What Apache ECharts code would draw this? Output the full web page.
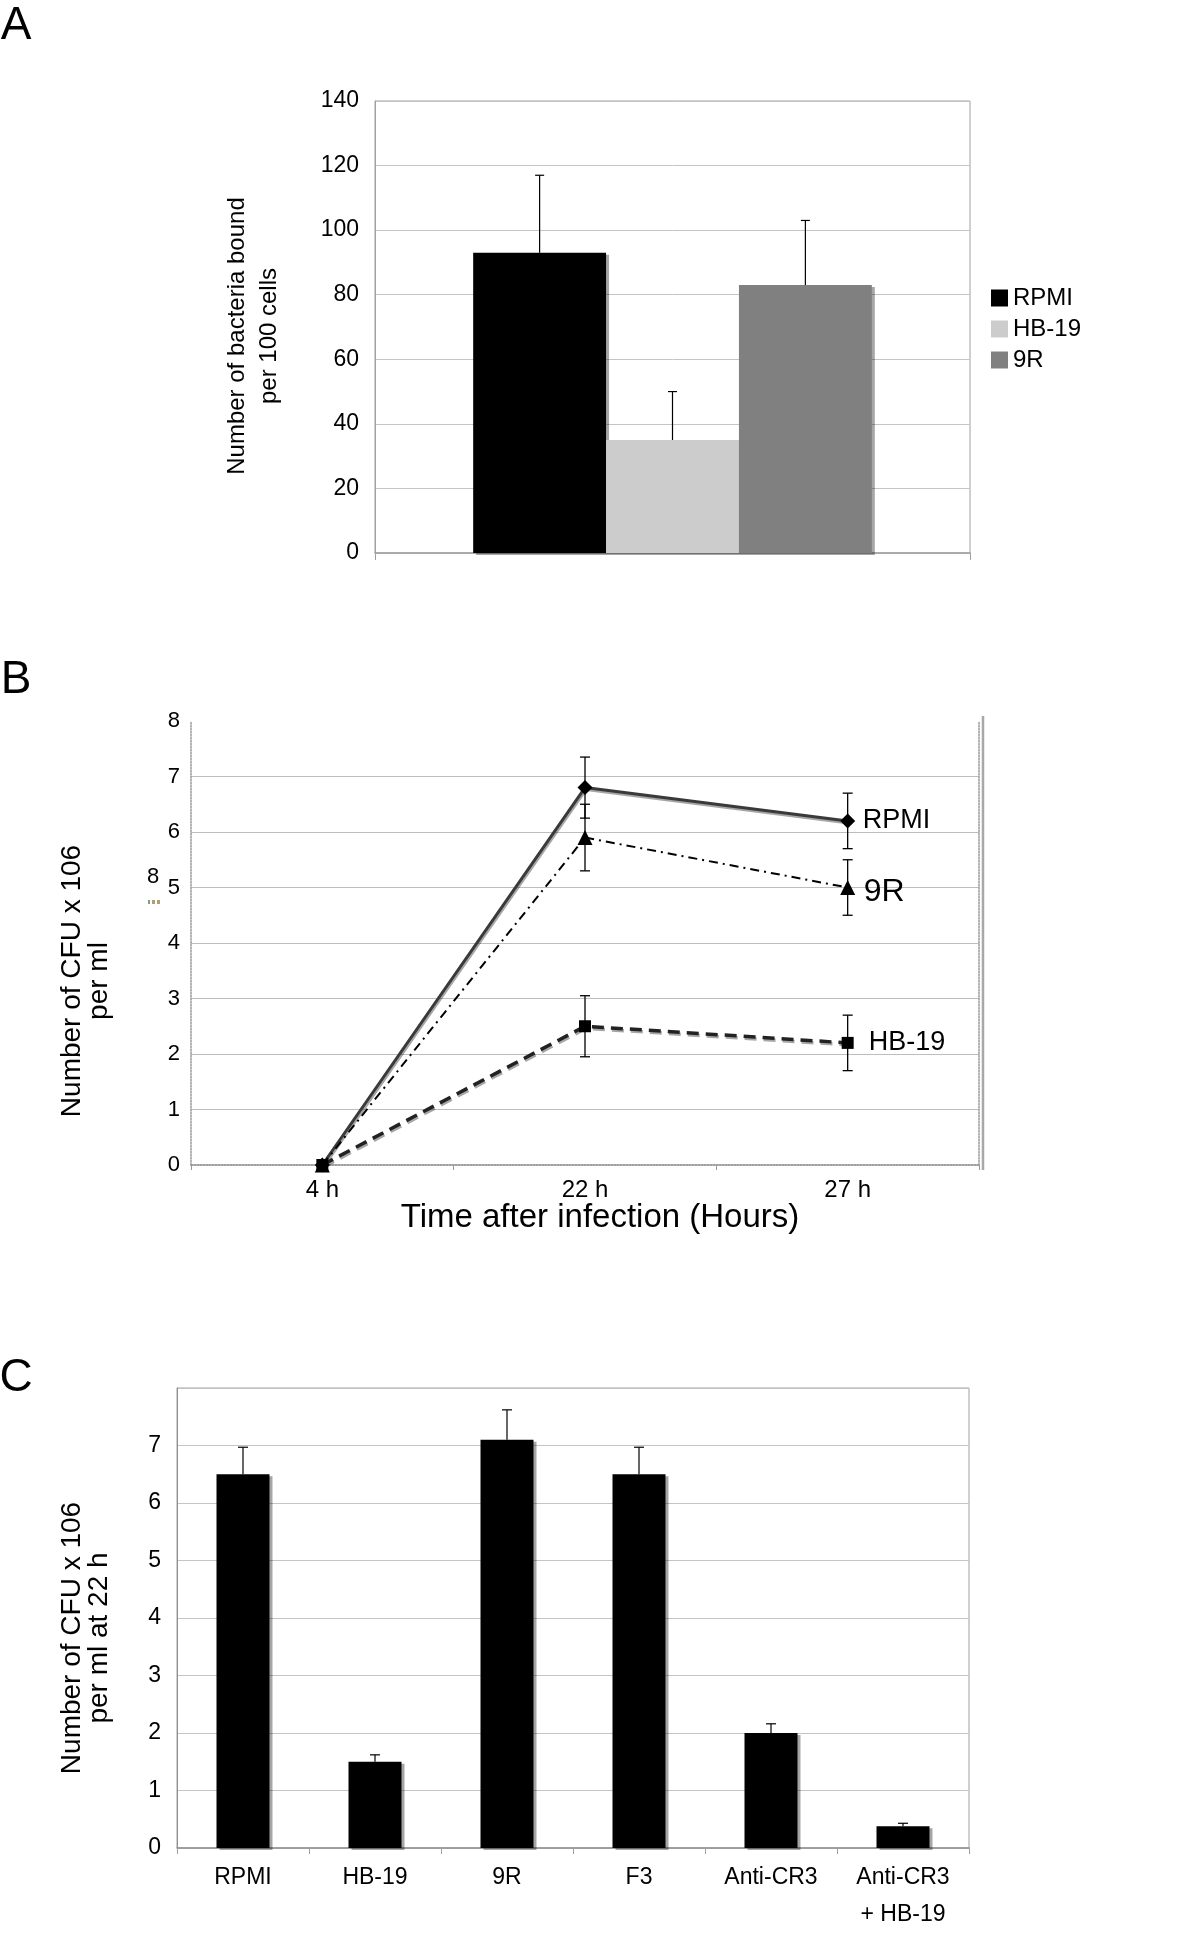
<!DOCTYPE html>
<html>
<head>
<meta charset="utf-8">
<script src="https://cdn.jsdelivr.net/npm/echarts/dist/echarts.min.js"></script>
<style>
  html, body { margin: 0; padding: 0; background: #ffffff; }
  #chart { width: 1200px; height: 1936px; }
</style>
</head>
<body>
<div id="chart"></div>
<script>
// ---------- Panel A data ----------
const namesA = ['RPMI', 'HB-19', '9R'];
const valuesA = [93, 35, 83];
const errorsA = [24, 15, 20];
const colorsA = ['#000000', '#cccccc', '#808080'];
const ticksA = { min: 0, max: 140, interval: 20 };

// ---------- Panel B data ----------
const timesB = ['4 h', '22 h', '27 h'];
const seriesNamesB = ['RPMI', '9R', 'HB-19'];
const rpmiB = [0, 6.8, 6.2];
const rpmiErrB = [0, 0.55, 0.5];
const nineRB = [0, 5.9, 5.0];
const nineRErrB = [0, 0.6, 0.5];
const hb19B = [0, 2.5, 2.2];
const hb19ErrB = [0, 0.55, 0.5];
const ticksB = { min: 0, max: 8, interval: 1 };

// ---------- Panel C data ----------
const catsC = ['RPMI', 'HB-19', '9R', 'F3', 'Anti-CR3', 'Anti-CR3\n+ HB-19'];
const valuesC = [6.5, 1.5, 7.1, 6.5, 2.0, 0.38];
const errorsC = [0.47, 0.12, 0.52, 0.47, 0.16, 0.05];
const ticksC = { min: 0, max: 8, interval: 1 };

const FONT = "'Liberation Sans', Arial, Helvetica, sans-serif";
const chart = echarts.init(document.getElementById('chart'), null, { renderer: 'canvas' });

const A_GAP = 0.33;

function capLines(x, yTop, yBot, half, drawBottomCap, lw) {
  const ch = [
    { type: 'line', shape: { x1: x, y1: yTop, x2: x, y2: yBot }, style: { stroke: '#000', lineWidth: lw } },
    { type: 'line', shape: { x1: x - half, y1: yTop, x2: x + half, y2: yTop }, style: { stroke: '#000', lineWidth: lw } }
  ];
  if (drawBottomCap) {
    ch.push({ type: 'line', shape: { x1: x - half, y1: yBot, x2: x + half, y2: yBot }, style: { stroke: '#000', lineWidth: lw } });
  }
  return { type: 'group', children: ch };
}

// error bars for panel A (bars grouped in one category, offset by bar index)
function renderErrA(params, api) {
  const idx = api.value(3);
  const base = api.coord([api.value(0), api.value(1)]);
  const top = api.coord([api.value(0), api.value(1) + api.value(2)]);
  const band = api.size([1, 0])[0];
  const barW = band * (1 - A_GAP) / namesA.length;
  const x = base[0] + (idx - (namesA.length - 1) / 2) * barW;
  return capLines(x, top[1], base[1], 4.5, false, 1.2);
}

function makeErrB(vals, errs) {
  return {
    type: 'custom',
    xAxisIndex: 1, yAxisIndex: 1,
    z: 5,
    silent: true,
    data: timesB.map((t, i) => [i, vals[i], errs[i]]),
    encode: { x: 0, y: 1 },
    renderItem: function (params, api) {
      const e = api.value(2);
      if (!e) return null;
      const hi = api.coord([api.value(0), api.value(1) + e]);
      const lo = api.coord([api.value(0), api.value(1) - e]);
      return capLines(hi[0], hi[1], lo[1], 5, true, 1.3);
    }
  };
}

function renderErrC(params, api) {
  const base = api.coord([api.value(0), api.value(1)]);
  const top = api.coord([api.value(0), api.value(1) + api.value(2)]);
  return capLines(base[0], top[1], base[1], 5, false, 1.2);
}

const barShadow = { shadowColor: 'rgba(0,0,0,0.35)', shadowOffsetX: 3, shadowOffsetY: 2, shadowBlur: 0 };

function txt(x, y, text, size, extra) {
  return Object.assign({
    type: 'text', x: x, y: y,
    style: { text: text, font: size + 'px ' + FONT, fill: '#000', align: 'center', verticalAlign: 'middle', textAlign: 'center', textVerticalAlign: 'middle' }
  }, extra || {});
}

const option = {
  animation: false,
  backgroundColor: '#ffffff',
  textStyle: { fontFamily: FONT, color: '#000' },
  legend: {
    data: namesA,
    orient: 'vertical',
    left: 986,
    top: 281,
    icon: 'rect',
    itemWidth: 17,
    itemHeight: 17,
    itemGap: 7,
    selectedMode: false,
    itemStyle: { shadowBlur: 0, shadowOffsetX: 0, shadowOffsetY: 0, shadowColor: 'transparent' },
    textStyle: { fontFamily: FONT, fontSize: 24, color: '#000', lineHeight: 24 }
  },
  grid: [
    { left: 375, top: 101, width: 595, height: 452, show: true, borderColor: '#a0a0a0', borderWidth: 1, backgroundColor: 'transparent' },
    { left: 191, top: 721, width: 788, height: 444 },
    { left: 177, top: 1388, width: 792, height: 460, show: true, borderColor: '#a0a0a0', borderWidth: 1, backgroundColor: 'transparent' }
  ],
  xAxis: [
    {
      type: 'category', gridIndex: 0, data: [''],
      axisLine: { lineStyle: { color: '#a0a0a0', width: 1.5 } },
      axisTick: { show: true, length: 7, lineStyle: { color: '#a0a0a0' } },
      axisLabel: { show: false }
    },
    {
      type: 'category', gridIndex: 1, data: timesB, boundaryGap: true,
      axisLine: { lineStyle: { color: '#999', type: 'dotted', width: 1.5 } },
      axisTick: { show: true, length: 5, lineStyle: { color: '#999' } },
      axisLabel: { fontFamily: FONT, fontSize: 24, color: '#000', margin: 13 }
    },
    {
      type: 'category', gridIndex: 1, data: timesB, position: 'top',
      axisLine: { lineStyle: { color: '#999', type: 'dotted', width: 1.5 } },
      axisTick: { show: false }, axisLabel: { show: false }
    },
    {
      type: 'category', gridIndex: 2, data: catsC, boundaryGap: true,
      axisLine: { lineStyle: { color: '#909090', width: 1.5 } },
      axisTick: { show: true, length: 6, lineStyle: { color: '#a0a0a0' } },
      axisLabel: { fontFamily: FONT, fontSize: 23, color: '#000', margin: 11, lineHeight: 37, interval: 0 }
    }
  ],
  yAxis: [
    {
      type: 'value', gridIndex: 0, min: ticksA.min, max: ticksA.max, interval: ticksA.interval,
      axisLine: { show: true, lineStyle: { color: '#a0a0a0' } },
      axisTick: { show: false },
      splitLine: { lineStyle: { color: '#c4c4c4', width: 1 } },
      axisLabel: { fontFamily: FONT, fontSize: 23, color: '#000', margin: 16 }
    },
    {
      type: 'value', gridIndex: 1, min: ticksB.min, max: ticksB.max, interval: ticksB.interval,
      axisLine: { show: true, lineStyle: { color: '#999', type: 'dotted', width: 1.5 } },
      axisTick: { show: false },
      splitLine: { showMinLine: false, showMaxLine: false, lineStyle: { color: '#bdbdbd', width: 1 } },
      axisLabel: { fontFamily: FONT, fontSize: 22, color: '#000', margin: 11 }
    },
    {
      type: 'value', gridIndex: 1, position: 'right', min: ticksB.min, max: ticksB.max, interval: ticksB.interval,
      axisLine: { show: true, lineStyle: { color: '#999', type: 'dotted', width: 1.5 } },
      axisTick: { show: false }, axisLabel: { show: false }, splitLine: { show: false }
    },
    {
      type: 'value', gridIndex: 2, min: ticksC.min, max: ticksC.max, interval: ticksC.interval,
      axisLine: { show: true, lineStyle: { color: '#909090' } },
      axisTick: { show: false },
      splitLine: { lineStyle: { color: '#c4c4c4', width: 1 } },
      axisLabel: {
        fontFamily: FONT, fontSize: 23, color: '#000', margin: 16,
        formatter: v => (v === ticksC.max ? '' : String(v))
      }
    }
  ],
  series: [
    // Panel A bars
    ...namesA.map((n, i) => ({
      name: n, type: 'bar', xAxisIndex: 0, yAxisIndex: 0,
      barGap: '0%', barCategoryGap: (A_GAP * 100) + '%',
      data: [valuesA[i]],
      itemStyle: Object.assign({ color: colorsA[i] }, barShadow),
      z: 2
    })),
    {
      type: 'custom', xAxisIndex: 0, yAxisIndex: 0, silent: true, z: 3,
      data: namesA.map((n, i) => [0, valuesA[i], errorsA[i], i]),
      encode: { x: 0, y: 1 },
      renderItem: renderErrA
    },
    // Panel B lines
    {
      name: 'B-' + seriesNamesB[0], type: 'line', xAxisIndex: 1, yAxisIndex: 1,
      data: rpmiB, symbol: 'diamond', symbolSize: 15, z: 4,
      itemStyle: { color: '#000' },
      lineStyle: { color: '#3a3a3a', width: 3, type: 'solid', shadowColor: 'rgba(0,0,0,0.35)', shadowOffsetY: 2, shadowOffsetX: 1, shadowBlur: 0 },
      endLabel: { show: true, formatter: () => seriesNamesB[0], fontFamily: FONT, fontSize: 27, color: '#000', distance: 15 }
    },
    {
      name: 'B-' + seriesNamesB[1], type: 'line', xAxisIndex: 1, yAxisIndex: 1,
      data: nineRB, symbol: 'triangle', symbolSize: 15, z: 4,
      itemStyle: { color: '#000' },
      lineStyle: { color: '#000', width: 2, type: [9, 5, 2, 5] },
      endLabel: { show: true, formatter: () => seriesNamesB[1], fontFamily: FONT, fontSize: 32, color: '#000', distance: 16, offset: [0, 5] }
    },
    {
      name: 'B-' + seriesNamesB[2], type: 'line', xAxisIndex: 1, yAxisIndex: 1,
      data: hb19B, symbol: 'rect', symbolSize: 12, z: 4,
      itemStyle: { color: '#000' },
      lineStyle: { color: '#222', width: 3.5, type: [12, 7], shadowColor: 'rgba(0,0,0,0.35)', shadowOffsetY: 2, shadowOffsetX: 1, shadowBlur: 0 },
      endLabel: { show: true, formatter: () => seriesNamesB[2], fontFamily: FONT, fontSize: 27, color: '#000', distance: 21 }
    },
    makeErrB(rpmiB, rpmiErrB),
    makeErrB(nineRB, nineRErrB),
    makeErrB(hb19B, hb19ErrB),
    // Panel C bars
    {
      name: 'C', type: 'bar', xAxisIndex: 3, yAxisIndex: 3,
      data: valuesC, barWidth: 53,
      itemStyle: Object.assign({ color: '#000' }, barShadow),
      z: 2
    },
    {
      type: 'custom', xAxisIndex: 3, yAxisIndex: 3, silent: true, z: 3,
      data: catsC.map((c, i) => [i, valuesC[i], errorsC[i]]),
      encode: { x: 0, y: 1 },
      renderItem: renderErrC
    }
  ],
  graphic: [
    txt(16, 26, 'A', 46),
    txt(16, 680, 'B', 46),
    txt(16, 1378, 'C', 46),
    (function () { const t = txt(253, 336, 'Number of bacteria bound\nper 100 cells', 24, { rotation: Math.PI / 2 }); t.style.lineHeight = 32; return t; })(),
    (function () { const t = txt(86, 981, 'Number of CFU x 106\nper ml', 28, { rotation: Math.PI / 2 }); t.style.lineHeight = 27; return t; })(),
    (function () { const t = txt(86, 1638, 'Number of CFU x 106\nper ml at 22 h', 28, { rotation: Math.PI / 2 }); t.style.lineHeight = 27; return t; })(),
    txt(600, 1218, 'Time after infection (Hours)', 33),
    txt(153, 877, '8', 22),
    { type: 'rect', shape: { x: 148, y: 900, width: 2, height: 4 }, style: { fill: '#7fa07f' } },
    { type: 'rect', shape: { x: 152, y: 900, width: 3, height: 4 }, style: { fill: '#b0a070' } },
    { type: 'rect', shape: { x: 157, y: 900, width: 3, height: 4 }, style: { fill: '#b0a070' } },
    { type: 'line', shape: { x1: 983, y1: 716, x2: 983, y2: 1170 }, style: { stroke: '#a8a8a8', lineWidth: 2.5 } }
  ]
};

chart.setOption(option);
</script>
</body>
</html>
